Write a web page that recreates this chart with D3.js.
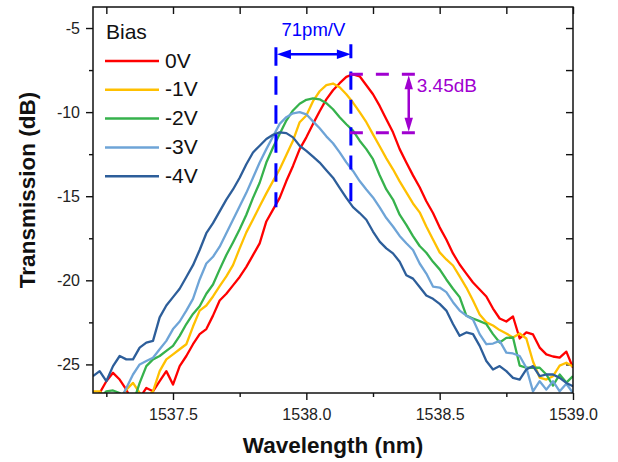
<!DOCTYPE html>
<html>

<head>
    <meta charset="utf-8" />
    <title>Transmission vs Wavelength</title>
    <script src="https://cdn.jsdelivr.net/npm/d3@7"></script>
    <style>
        body { margin: 0; background: #fff; }
        svg { display: block; font-family: "Liberation Sans", Arial, sans-serif; }
    </style>
</head>

<body>
    <script type="text/javascript">
        // sample positions (nm)
        const wavelength = [
            1537.200, 1537.225, 1537.250, 1537.275, 1537.300, 1537.325, 1537.350, 1537.375, 1537.400, 1537.425,
            1537.450, 1537.475, 1537.500, 1537.525, 1537.550, 1537.575, 1537.600, 1537.625, 1537.650, 1537.675,
            1537.700, 1537.725, 1537.750, 1537.775, 1537.800, 1537.825, 1537.850, 1537.875, 1537.900, 1537.925,
            1537.950, 1537.975, 1538.000, 1538.025, 1538.050, 1538.075, 1538.100, 1538.125, 1538.150, 1538.175,
            1538.200, 1538.225, 1538.250, 1538.275, 1538.300, 1538.325, 1538.350, 1538.375, 1538.400, 1538.425,
            1538.450, 1538.475, 1538.500, 1538.525, 1538.550, 1538.575, 1538.600, 1538.625, 1538.650, 1538.675,
            1538.700, 1538.725, 1538.750, 1538.775, 1538.800, 1538.825, 1538.850, 1538.875, 1538.900, 1538.925,
            1538.950, 1538.975, 1539.000
        ];

        // transmission (dB) per bias
        const bias0V = [
            -27.2, -26.7, -26.0, -25.5, -25.9, -26.5, -27.3, -27.0, -26.4, -26.6,
            -26.0, -25.4, -26.2, -25.1, -24.5, -23.8, -23.2, -22.9, -22.1, -21.2,
            -20.8, -20.3, -19.8, -19.2, -18.5, -17.8, -16.5, -15.8, -15.1, -14.1,
            -13.2, -12.2, -11.5, -10.7, -9.95, -9.24, -8.7, -8.28, -7.9, -7.75,
            -7.87, -8.4, -8.94, -9.63, -10.43, -11.2, -12.2, -13.0, -13.76, -14.47,
            -15.3, -16.0, -16.85, -17.57, -18.4, -19.06, -19.6, -20.13, -20.55, -20.96,
            -21.68, -22.27, -22.45, -22.15, -23.46, -23.1, -23.22, -24.0, -24.4, -24.53,
            -24.6, -24.24, -25.2
        ];
        const bias1V = [
            -26.6, -26.6, -27.0, -27.3, -27.0, -26.5, -26.1, -26.7, -27.0, -26.6,
            -25.4, -24.7, -24.4, -24.1, -23.8, -22.75, -21.8, -21.5, -20.96, -20.35,
            -19.77, -19.1, -18.1, -17.15, -16.38, -15.6, -14.83, -14.1, -13.4, -12.55,
            -11.7, -10.6, -10.2, -9.35, -8.76, -8.4, -8.3, -8.52, -8.94, -9.43,
            -10.0, -10.6, -11.32, -12.03, -12.75, -13.4, -14.12, -14.77, -15.43, -15.96,
            -16.8, -17.57, -18.34, -18.76, -19.12, -19.77, -20.43, -21.2, -22.03, -22.5,
            -22.69, -22.96, -23.16, -23.4, -23.16, -23.46, -24.83, -25.78, -25.9, -25.7,
            -25.07, -24.9, -25.13
        ];
        const bias2V = [
            -27.4, -27.0, -26.6, -26.55, -26.7, -27.2, -27.3, -26.1, -25.1, -24.7,
            -24.5, -24.2, -23.9, -23.3, -22.6, -22.0, -21.54, -20.8, -20.25, -19.35,
            -18.5, -17.75, -16.97, -16.1, -15.1, -14.2, -13.0, -12.1, -11.3, -10.5,
            -9.9, -9.5, -9.27, -9.18, -9.24, -9.47, -9.83, -10.3, -10.72, -11.1,
            -11.7, -12.2, -12.8, -13.75, -14.6, -15.2, -16.1, -16.7, -17.37, -17.96,
            -18.36, -18.9, -19.35, -19.95, -20.5, -21.0, -22.1, -22.27, -22.43, -22.6,
            -23.2, -23.7, -23.42, -23.4, -25.07, -25.2, -25.2, -25.2, -25.6, -26.26,
            -25.6, -26.08, -25.7
        ];
        const bias3V = [
            -27.5, -27.8, -27.3, -27.6, -27.2, -26.4, -25.6, -25.0, -24.8, -24.6,
            -24.1, -23.6, -22.9, -22.45, -21.8, -21.1, -19.95, -19.0, -18.6, -18.0,
            -17.2, -16.4, -15.6, -14.8, -13.9, -13.0, -12.2, -11.45, -10.7, -10.3,
            -10.07, -10.0, -10.13, -10.55, -10.96, -11.44, -11.85, -12.39, -12.99, -13.5,
            -14.1, -14.6, -15.07, -15.66, -16.3, -16.8, -17.36, -17.8, -18.2, -19.0,
            -19.6, -20.37, -20.43, -20.7, -21.3, -21.8, -22.1, -22.33, -23.2, -23.8,
            -23.76, -23.6, -24.3, -24.35, -24.5, -25.2, -26.6, -26.0, -26.5, -26.0,
            -26.6, -26.15, -26.7
        ];
        const bias4V = [
            -25.7, -25.4, -26.0, -25.1, -24.5, -24.7, -24.7, -24.0, -23.7, -23.6,
            -22.2, -21.5, -21.0, -20.5, -19.8, -19.1, -18.2, -17.2, -16.6, -15.9,
            -15.2, -14.6, -13.9, -13.1, -12.4, -12.0, -11.6, -11.35, -11.2, -11.25,
            -11.5, -12.0, -12.3, -12.65, -13.0, -13.45, -13.9, -14.5, -15.1, -15.65,
            -16.0, -16.4, -17.1, -17.7, -18.1, -18.4, -18.9, -19.7, -19.9, -20.4,
            -20.9, -21.1, -21.4, -21.8, -22.6, -23.3, -23.1, -23.2, -23.9, -24.8,
            -25.3, -25.1, -25.4, -25.8, -25.9, -25.3, -25.1, -25.7, -25.6, -25.6,
            -25.8, -26.1, -26.3
        ];

        const biasLabels = ["0V", "-1V", "-2V", "-3V", "-4V"];
        const biasSeries = [bias0V, bias1V, bias2V, bias3V, bias4V];

        const xTicks = [1537.5, 1538.0, 1538.5, 1539.0];
        const xMinorTicks = [1537.25, 1537.75, 1538.25, 1538.75];
        const yTicks = [-25, -20, -15, -10, -5];
        const yMinorTicks = [-22.5, -17.5, -12.5, -7.5];

        // annotations (data units)
        const shiftFrom = 1537.886, shiftTo = 1538.167, shiftLabel = "71pm/V";
        const dropTop = -7.75, dropBottom = -11.22, dropAt = 1538.384, dropEnd = 1538.407, dropLabel = "3.45dB";

        const colors = ["#ff0000", "#ffc000", "#36b24c", "#6ea4d7", "#2d5e9a"];
        const blue = "#0000ff", purple = "#a000d0";

        const width = 618, height = 462;
        const margin = { top: 7, left: 93, right: 45, bottom: 69 };

        const x = d3.scaleLinear().domain([1537.2, 1539.0])
            .range([margin.left, width - margin.right]);
        const y = d3.scaleLinear().domain([-26.7, -3.75])
            .range([height - margin.bottom, margin.top]);

        const svg = d3.select("body").append("svg")
            .attr("width", width)
            .attr("height", height);

        svg.append("rect").attr("width", width).attr("height", height).attr("fill", "#fff");

        svg.append("clipPath").attr("id", "plot-clip")
            .append("rect")
            .attr("x", margin.left).attr("y", margin.top)
            .attr("width", width - margin.left - margin.right)
            .attr("height", height - margin.top - margin.bottom);

        // ---- axes ----
        const styleAxis = (g) => {
            g.select(".domain").remove();
            g.selectAll(".tick line").attr("stroke", "#111").attr("stroke-width", 1.4);
            g.selectAll(".tick text").attr("fill", "#222").attr("font-size", 16);
        };

        svg.append("g")
            .attr("transform", `translate(0,${height - margin.bottom})`)
            .call(d3.axisBottom(x).tickValues(xTicks).tickFormat(d3.format(".1f"))
                .tickSize(7).tickPadding(8.5))
            .call(styleAxis);
        svg.append("g")
            .attr("transform", `translate(0,${height - margin.bottom})`)
            .call(d3.axisBottom(x).tickValues(xMinorTicks).tickFormat("").tickSize(4))
            .call(styleAxis);
        svg.append("g")
            .attr("transform", `translate(0,${margin.top})`)
            .call(d3.axisTop(x).tickValues(xTicks.concat(xMinorTicks)).tickFormat("").tickSize(-7))
            .call(styleAxis);

        svg.append("g")
            .attr("transform", `translate(${margin.left},0)`)
            .call(d3.axisLeft(y).tickValues(yTicks).tickFormat(d => String(d))
                .tickSize(7).tickPadding(6))
            .call(styleAxis);
        svg.append("g")
            .attr("transform", `translate(${margin.left},0)`)
            .call(d3.axisLeft(y).tickValues(yMinorTicks).tickFormat("").tickSize(4))
            .call(styleAxis);
        svg.append("g")
            .attr("transform", `translate(${width - margin.right},0)`)
            .call(d3.axisRight(y).tickValues(yTicks.concat(yMinorTicks)).tickFormat("").tickSize(-7))
            .call(styleAxis);

        // ---- curves ----
        const line = d3.line()
            .x((d, i) => x(wavelength[i]))
            .y(d => y(d));

        const curves = svg.append("g").attr("clip-path", "url(#plot-clip)");
        biasSeries.forEach((s, k) => {
            curves.append("path")
                .datum(s)
                .attr("d", line)
                .attr("fill", "none")
                .attr("stroke", colors[k])
                .attr("stroke-width", 2.3)
                .attr("stroke-linejoin", "round");
        });

        // frame
        svg.append("rect")
            .attr("x", margin.left).attr("y", margin.top)
            .attr("width", width - margin.left - margin.right)
            .attr("height", height - margin.top - margin.bottom)
            .attr("fill", "none").attr("stroke", "#111").attr("stroke-width", 1.5);

        // ---- legend ----
        const legend = svg.append("g");
        legend.append("text")
            .attr("x", 106).attr("y", 39)
            .attr("font-size", 21).attr("fill", "#111")
            .text("Bias");
        biasLabels.forEach((lab, k) => {
            const ly = 61 + k * 28.8;
            legend.append("line")
                .attr("x1", 105).attr("x2", 159)
                .attr("y1", ly).attr("y2", ly)
                .attr("stroke", colors[k]).attr("stroke-width", 2.5);
            legend.append("text")
                .attr("x", 165).attr("y", ly + 6.5)
                .attr("font-size", 21).attr("fill", "#111")
                .text(lab);
        });

        // ---- 71pm/V annotation ----
        const ann = svg.append("g");
        const xa = x(shiftFrom), xb = x(shiftTo), ya = y(-6.56);

        ann.append("line")
            .attr("x1", xa).attr("x2", xa)
            .attr("y1", y(-6.14)).attr("y2", y(-15.66))
            .attr("stroke", blue).attr("stroke-width", 3)
            .attr("stroke-dasharray", "18.5,10.5");
        ann.append("line")
            .attr("x1", xb).attr("x2", xb)
            .attr("y1", y(-5.96)).attr("y2", y(-15.6))
            .attr("stroke", blue).attr("stroke-width", 3)
            .attr("stroke-dasharray", "14,13.4,18.3,10");
        ann.append("line")
            .attr("x1", xa + 6).attr("x2", xb - 6)
            .attr("y1", ya).attr("y2", ya)
            .attr("stroke", blue).attr("stroke-width", 2.5);
        ann.append("path")
            .attr("d", `M${xa + 1},${ya} L${xa + 15},${ya - 4.8} L${xa + 15},${ya + 4.8} Z`)
            .attr("fill", blue);
        ann.append("path")
            .attr("d", `M${xb},${ya} L${xb - 14},${ya - 4.8} L${xb - 14},${ya + 4.8} Z`)
            .attr("fill", blue);
        ann.append("text")
            .attr("x", (xa + xb) / 2).attr("y", 35.5)
            .attr("text-anchor", "middle")
            .attr("font-size", 18.5).attr("fill", blue)
            .text(shiftLabel);

        // ---- 3.45dB annotation ----
        const xp = x(dropAt), yt = y(dropTop), yb = y(dropBottom);
        [yt, yb].forEach(yy => {
            ann.append("line")
                .attr("x1", xb - 1).attr("x2", x(dropEnd))
                .attr("y1", yy).attr("y2", yy)
                .attr("stroke", purple).attr("stroke-width", 3)
                .attr("stroke-dasharray", "13,13");
        });
        ann.append("line")
            .attr("x1", xp).attr("x2", xp)
            .attr("y1", yt + 6).attr("y2", yb - 6)
            .attr("stroke", purple).attr("stroke-width", 2.5);
        ann.append("path")
            .attr("d", `M${xp},${yt + 1} L${xp - 4.2},${yt + 15} L${xp + 4.2},${yt + 15} Z`)
            .attr("fill", purple);
        ann.append("path")
            .attr("d", `M${xp},${yb - 1} L${xp - 4.2},${yb - 15} L${xp + 4.2},${yb - 15} Z`)
            .attr("fill", purple);
        ann.append("text")
            .attr("x", xp + 8).attr("y", 91.5)
            .attr("font-size", 19).attr("fill", purple)
            .text(dropLabel);

        // ---- axis titles ----
        svg.append("text")
            .attr("x", (margin.left + width - margin.right) / 2).attr("y", 453)
            .attr("text-anchor", "middle")
            .attr("font-size", 22.5).attr("font-weight", "bold").attr("fill", "#111")
            .text("Wavelength (nm)");
        svg.append("text")
            .attr("transform", "translate(35,190) rotate(-90)")
            .attr("text-anchor", "middle")
            .attr("font-size", 22.5).attr("font-weight", "bold").attr("fill", "#111")
            .text("Transmission (dB)");
    </script>
</body>

</html>
